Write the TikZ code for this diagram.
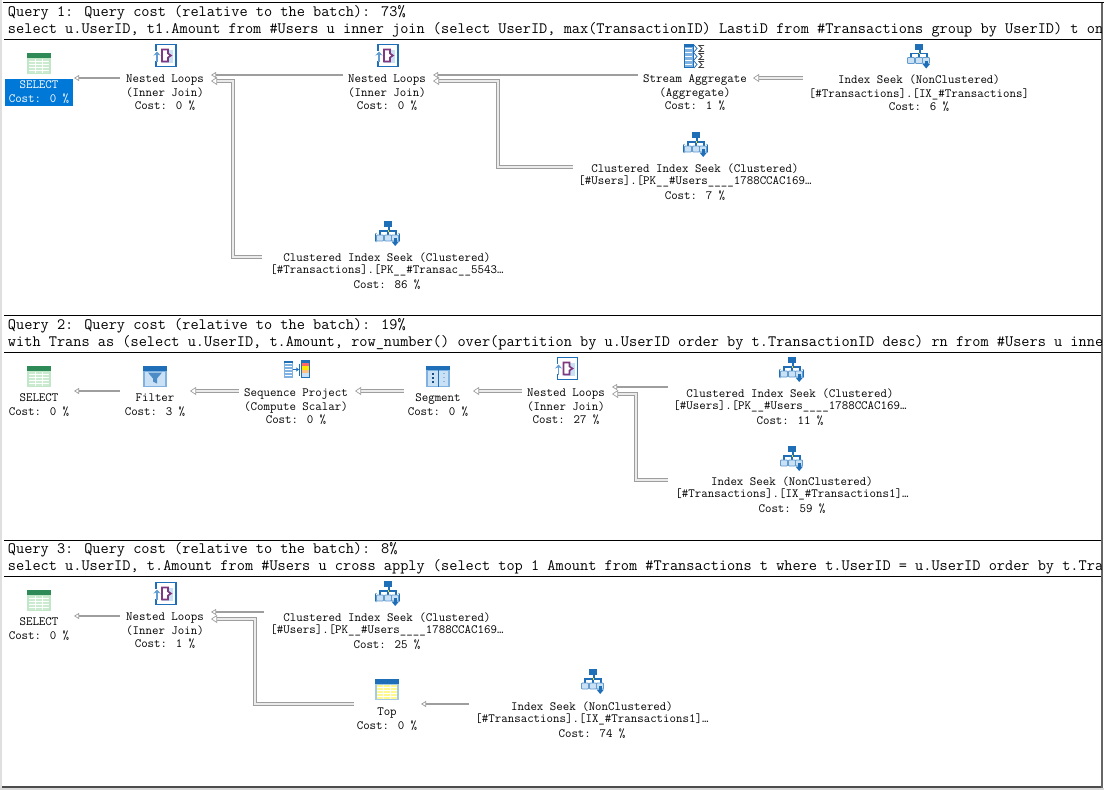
\documentclass[tikz,border=0pt]{standalone}
\usepackage{fontspec}
\usetikzlibrary{arrows.meta}
\definecolor{linegray}{gray}{0.62}
\definecolor{flowfill}{gray}{0.92}
\definecolor{selblue}{HTML}{0078D7}
\definecolor{icblue}{HTML}{1F6FB8}
\definecolor{icmid}{HTML}{7FB2E0}
\definecolor{iclight}{HTML}{C9E0F5}
\definecolor{gdark}{HTML}{2E8B57}
\definecolor{gmid}{HTML}{A8DDB0}
\tikzset{
  optext/.style={inner sep=0pt,outer sep=0pt,align=center,anchor=north,font=\ttfamily\fontsize{12.57}{13.5}\selectfont,text=black,execute at begin node={\rule{0pt}{8pt}}},
  qtext/.style={inner sep=0pt,outer sep=0pt,anchor=base west,font=\ttfamily\fontsize{15.87}{16}\selectfont,text=black},
  thinflow/.style={draw=linegray,line width=1.8pt,-{Triangle[open,length=5pt,width=6pt,line width=.7pt,fill=white]}},
  fatflow/.style={draw=linegray,line width=.8pt,double=flowfill,double distance=2.6pt,-{Triangle[open,length=6pt,width=8pt,line width=.7pt,fill=white]}},
  rule/.style={draw=black,line width=1pt},
  pics/tablegrid/.style n args={3}{code={
    \fill[#2!70!white] (-12,-10) rectangle (12,11);
    \fill[#1] (-12,-10) rectangle (12,-5);
    \fill[#3] (-10,-4) rectangle (10,10);
    \foreach \yy in {-1,2,5,8}{\draw[white,line width=.6pt] (-10,\yy) -- (10,\yy);}
    \foreach \xx in {-4,3}{\draw[white,line width=.6pt] (\xx,-4) -- (\xx,10);}
  }},
  pics/filtericon/.style={code={
    \fill[icmid] (-12,-10) rectangle (12,11);
    \fill[icblue] (-12,-10) rectangle (12,-5);
    \fill[iclight] (-10,-4) rectangle (10,10);
    \fill[icblue!80!white] (-7,-3) -- (7,-3) -- (2,3) -- (2,8) -- (-2,6) -- (-2,3) -- cycle;
  }},
  pics/segicon/.style={code={
    \fill[icmid] (-12,-10) rectangle (12,11);
    \fill[icblue] (-12,-10) rectangle (12,-6);
    \fill[iclight] (-10,-5) rectangle (10,10);
    \draw[icblue,line width=1pt] (0,-10) -- (0,11);
    \foreach \yy in {-2,2,6}{\fill[icblue!70!black] (-6,\yy-1) rectangle (-4,\yy+1);\fill[icblue!50!white] (5,\yy-.7) rectangle (6.5,\yy+.7);}
  }},
  pics/seqicon/.style={code={
    \fill[icmid] (-12,-8) rectangle (-3,9);
    \foreach \yy in {-6,-3,0,3,6}{\fill[white] (-11,\yy) rectangle (-4,\yy+1);}
    \fill[icblue] (-12,-8) rectangle (-3,-6);
    \draw[icblue,line width=1.2pt,-{Stealth[length=3pt,width=4pt]}] (-3,1) -- (3,1);
    \draw[icblue,line width=1pt] (3,-5) -- (3,7);
    \fill[iclight] (5,-8) rectangle (13,9);
    \fill[red!60!white] (5,-6) rectangle (13,-3);
    \fill[yellow!90!orange] (5,-3) rectangle (13,1);
    \fill[orange!50!white] (5,1) rectangle (13,4);
    \fill[icblue] (5,-8) rectangle (13,-6);
    \draw[icblue,line width=.6pt] (5,-8) rectangle (13,9);
  }},
  pics/nlicon/.style={code={
    \draw[icblue,line width=1.5pt,fill=white] (-9,-11) rectangle (11,11);
    \fill[white] (-11,-5) rectangle (-7,5);
    \draw[icmid!70!icblue,line width=1.8pt,-{Stealth[length=4pt,width=7pt]}] (-8,6) -- (-8,-4);
    \fill[iclight] (-3,-6) rectangle (8,7);
    \draw[violet!55!gray,line width=1.6pt,fill=white] (-3,-6) -- (3,-6) -- (3,-2) -- (6,0) -- (3,2) -- (3,6) -- (-3,6) -- cycle;
  }},
  pics/seekicon/.style={code={
    \fill[icblue] (-3,-12) rectangle (5,-6);
    \draw[icblue,line width=1.6pt] (2,-6) -- (2,-2) (-7,2) -- (-7,-2) -- (9,-2) -- (9,2) (1,-2) -- (1,2);
    \foreach \xx in {-7,1,8}{\draw[icblue!70!white,fill=iclight,line width=.8pt,rounded corners=.8pt] (\xx-3.5,2) rectangle (\xx+3.5,8);}
    \fill[yellow!80!orange] (.5,-3) rectangle (2,-1.5);
    \fill[icblue] (6.5,5) rectangle (10,9);
    \fill[icblue] (4.5,8.5) -- (12,8.5) -- (8.2,13) -- cycle;
  }},
  pics/cseekicon/.style={code={
    \pic {seekicon};
    \draw[icblue,line width=.6pt] (-10.5,0) -- (-11.5,1) -- (-11.5,8) -- (-10.5,9) (11.5,0) -- (12.5,1) -- (12.5,8) -- (11.5,9);
  }},
  pics/sumicon/.style={code={
    \fill[icmid] (-11,-11) rectangle (-2,12);
    \foreach \yy in {-8,-4,0,4,8}{\fill[white] (-10,\yy) rectangle (-3,\yy+1);}
    \fill[icblue] (-11,-11) rectangle (-2,-9);
    \draw[icblue,line width=.5pt] (-11,-11) rectangle (-2,12);
    \foreach \yy in {-7,1,9}{
      \draw[icblue,line width=.8pt] (-1,\yy-3.5) -- (2,\yy) -- (-1,\yy+3.5);
      \draw[black!75,line width=.8pt] (9,\yy-3) -- (4,\yy-3) -- (7,\yy) -- (4,\yy+3) -- (9,\yy+3);
    }
  }},
}
\begin{document}
\begin{tikzpicture}[x=1pt,y=-1pt]
\useasboundingbox (0,0) rectangle (1104,790);
\fill[white] (0,0) rectangle (1104,790);
% frame
\fill[gray!25] (0,0) rectangle (1.5,790);
\fill[gray!30] (0,788) rectangle (1104,790);
\draw[rule] (3,2) -- (1104,2);
\fill[black!70] (2,785.5) rectangle (1103,788);
\fill[black!60] (1101,3) rectangle (1103,788);
% rules
\draw[rule] (4,39.5) -- (1101,39.5);
\draw[rule] (4,315.5) -- (1101,315.5);
\draw[rule] (4,352) -- (1101,352);
\draw[rule] (4,540) -- (1101,540);
\draw[rule] (4,576) -- (1101,576);
% query text
\begin{scope}
\clip (0,0) rectangle (1101,790);
\node[qtext] (q1a) at (8,16) {Query 1: Query cost (relative to the batch): 73\%};
\node[qtext] (q1b) at (8,33) {select u.UserID, t1.Amount from \#Users u inner join (select UserID, max(TransactionID) LastiD from \#Transactions group by UserID) t on};
\node[qtext] (q2a) at (8,329) {Query 2: Query cost (relative to the batch): 19\%};
\node[qtext] (q2b) at (8,346) {with Trans as (select u.UserID, t.Amount, row\_number() over(partition by u.UserID order by t.TransactionID desc) rn from \#Users u inner};
\node[qtext] (q3a) at (8,553) {Query 3: Query cost (relative to the batch): 8\%};
\node[qtext] (q3b) at (8,570) {select u.UserID, t.Amount from \#Users u cross apply (select top 1 Amount from \#Transactions t where t.UserID = u.UserID order by t.Trans};
\end{scope}
% selection box
\fill[selblue] (5,79) rectangle (73,106);
% icons
\pic at (39,62.5) {tablegrid={gdark}{gmid}{gmid!60!white}};
\pic at (165,55.5) {nlicon};
\pic at (387,55.5) {nlicon};
\pic at (695,55.5) {sumicon};
\pic at (918,55.5) {seekicon};
\pic at (695,144) {cseekicon};
\pic at (387,233) {cseekicon};
\pic at (39,375.5) {tablegrid={gdark}{gmid}{gmid!60!white}};
\pic at (155,375.5) {filtericon};
\pic at (296,368.5) {seqicon};
\pic at (438,375.5) {segicon};
\pic at (566.5,368.5) {nlicon};
\pic at (791,369) {cseekicon};
\pic at (791,458) {seekicon};
\pic at (39,599.5) {tablegrid={gdark}{gmid}{gmid!60!white}};
\pic at (165,593.5) {nlicon};
\pic at (387,593) {cseekicon};
\pic at (387,688.5) {tablegrid={icblue}{icmid}{yellow!45!white}};
\pic at (592,681) {seekicon};
% Query 1 operators
\node[optext,text=white] (a0) at (39,81) {SELECT\\Cost: 0 \%};
\node[optext] (a1) at (165,75) {Nested Loops\\(Inner Join)\\Cost: 0 \%};
\node[optext] (a2) at (387,75) {Nested Loops\\(Inner Join)\\Cost: 0 \%};
\node[optext] (a3) at (695,75) {Stream Aggregate\\(Aggregate)\\Cost: 1 \%};
\node[optext] (a4) at (919,75) {Index Seek (NonClustered)\\{[\#Transactions].[IX\_\#Transactions]}\\Cost: 6 \%};
\node[optext] (a5) at (695,164) {Clustered Index Seek (Clustered)\\[-1.5pt]{[\#Users].[PK\_\_\#Users\_\_\_\_1788CCAC169…}\\[1.5pt]Cost: 7 \%};
\node[optext] (a6) at (387,253) {Clustered Index Seek (Clustered)\\[-1.5pt]{[\#Transactions].[PK\_\_\#Transac\_\_5543…}\\[1.5pt]Cost: 86 \%};
% Query 2 operators
\node[optext] (b0) at (39,394) {SELECT\\Cost: 0 \%};
\node[optext] (b1) at (155,394) {Filter\\Cost: 3 \%};
\node[optext] (b2) at (296,389) {Sequence Project\\(Compute Scalar)\\Cost: 0 \%};
\node[optext] (b3) at (438,394) {Segment\\Cost: 0 \%};
\node[optext] (b4) at (566,389) {Nested Loops\\(Inner Join)\\Cost: 27 \%};
\node[optext] (b5) at (790,389) {Clustered Index Seek (Clustered)\\[-1.5pt]{[\#Users].[PK\_\_\#Users\_\_\_\_1788CCAC169…}\\[1.5pt]Cost: 11 \%};
\node[optext] (b6) at (792,477) {Index Seek (NonClustered)\\[-1.5pt]{[\#Transactions].[IX\_\#Transactions1]…}\\[1.5pt]Cost: 59 \%};
% Query 3 operators
\node[optext] (c0) at (39,618) {SELECT\\Cost: 0 \%};
\node[optext] (c1) at (165,613) {Nested Loops\\(Inner Join)\\Cost: 1 \%};
\node[optext] (c2) at (387,613) {Clustered Index Seek (Clustered)\\[-1.5pt]{[\#Users].[PK\_\_\#Users\_\_\_\_1788CCAC169…}\\[1.5pt]Cost: 25 \%};
\node[optext] (c3) at (387,708) {Top\\Cost: 0 \%};
\node[optext] (c4) at (592,702) {Index Seek (NonClustered)\\[-1.5pt]{[\#Transactions].[IX\_\#Transactions1]…}\\[1.5pt]Cost: 74 \%};
% Query 1 connectors
\draw[thinflow] ([shift={(-45,3)}]a1.north) -- ([shift={(35,-3)}]a0.north);
\draw[thinflow] ([shift={(-44,0)}]a2.north) -- ([shift={(46,0)}]a1.north);
\draw[fatflow] ([shift={(-125,4)}]a6.north) -| ([shift={(68,6)}]a1.north) -- ([shift={(46,6)}]a1.north);
\draw[thinflow] ([shift={(-57,0)}]a3.north) -- ([shift={(46,0)}]a2.north);
\draw[fatflow] ([shift={(-122,3)}]a5.north) -| ([shift={(111,6)}]a2.north) -- ([shift={(46,6)}]a2.north);
\draw[fatflow] ([shift={(-116,3)}]a4.north) -- ([shift={(58,3)}]a3.north);
% Query 2 connectors
\draw[thinflow] ([shift={(-35,-3)}]b1.north) -- ([shift={(35,-3)}]b0.north);
\draw[fatflow] ([shift={(-57,2)}]b2.north) -- ([shift={(35,-3)}]b1.north);
\draw[fatflow] ([shift={(-34,-3)}]b3.north) -- ([shift={(59,2)}]b2.north);
\draw[fatflow] ([shift={(-44,2)}]b4.north) -- ([shift={(35,-3)}]b3.north);
\draw[thinflow] ([shift={(-122,-2)}]b5.north) -- ([shift={(46,-2)}]b4.north);
\draw[fatflow] ([shift={(-124,3)}]b6.north) -| ([shift={(70,5)}]b4.north) -- ([shift={(46,5)}]b4.north);
% Query 3 connectors
\draw[thinflow] ([shift={(-45,3)}]c1.north) -- ([shift={(35,-2)}]c0.north);
\draw[thinflow] ([shift={(-123,-1)}]c2.north) -- ([shift={(46,-1)}]c1.north);
\draw[fatflow] ([shift={(-33,-4)}]c3.north) -| ([shift={(90,6)}]c1.north) -- ([shift={(46,6)}]c1.north);
\draw[thinflow] ([shift={(-123,2)}]c4.north) -- ([shift={(34,-4)}]c3.north);
\end{tikzpicture}
\end{document}
